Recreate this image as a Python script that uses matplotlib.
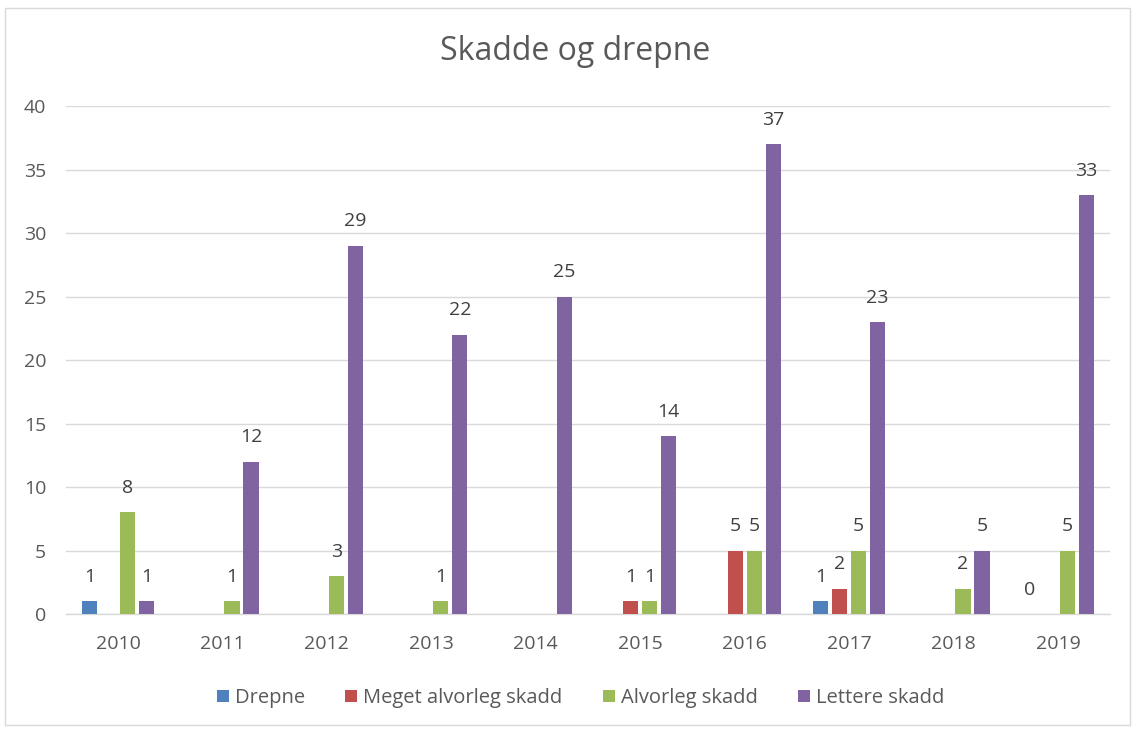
import numpy as np
import matplotlib
matplotlib.use('Agg')
import matplotlib.pyplot as plt
from matplotlib.patches import Rectangle

plt.rcParams['font.family'] = ['Open Sans', 'DejaVu Sans']

# data (nan = no bar / no label)
years = ['2010', '2011', '2012', '2013', '2014', '2015', '2016', '2017', '2018', '2019']
drepne = [1, np.nan, np.nan, np.nan, np.nan, np.nan, np.nan, 1, np.nan, 0]
meget_alvorleg = [np.nan, np.nan, np.nan, np.nan, np.nan, 1, 5, 2, np.nan, np.nan]
alvorleg = [8, 1, 3, 1, np.nan, 1, 5, 5, 2, 5]
lettere = [1, 12, 29, 22, 25, 14, 37, 23, 5, 33]

series_names = ['Drepne', 'Meget alvorleg skadd', 'Alvorleg skadd', 'Lettere skadd']
series_vals = [drepne, meget_alvorleg, alvorleg, lettere]
colors = ['#4F81BD', '#C0504D', '#9BBB59', '#8064A2']

grid_col = '#D9D9D9'
text_col = '#595959'
label_col = '#404040'

fig = plt.figure(figsize=(11.34, 7.31), dpi=100)
ax = fig.add_axes([0.058, 0.160, 0.921, 0.695])

x = np.arange(len(years))
step = 0.182
width = 0.145
offsets = (np.arange(4) - 1.5) * step

for i, (name, vals) in enumerate(zip(series_names, series_vals)):
    vals = np.array(vals, dtype=float)
    bars = ax.bar(x + offsets[i], np.nan_to_num(vals, nan=0.0), width,
                  color=colors[i], label=name, zorder=3)
    labels = ['' if np.isnan(v) else '%d' % v for v in vals]
    ax.bar_label(bars, labels=labels, padding=11, fontsize=14, color=label_col)

ax.set_xlim(-0.5, len(years) - 0.5)
ax.set_ylim(0, 40)
ax.set_yticks(range(0, 41, 5))
ax.set_xticks(x)
ax.set_xticklabels(years)
ax.tick_params(axis='both', length=0, labelsize=14, labelcolor=text_col)
ax.tick_params(axis='x', pad=15)
ax.tick_params(axis='y', pad=14)
ax.grid(axis='y', color=grid_col, linewidth=1, zorder=0)
ax.set_axisbelow(True)
for s in ['top', 'right', 'left']:
    ax.spines[s].set_visible(False)
ax.spines['bottom'].set_color(grid_col)
ax.spines['bottom'].set_linewidth(1)

fig.text(0.507, 1 - 52 / 731, 'Skadde og drepne', ha='center', va='center',
         fontsize=23, color=text_col)

fig.legend(loc='center', bbox_to_anchor=(0.512, 0.045), ncol=4, frameon=False,
           fontsize=14.5, labelcolor=text_col, handlelength=0.6, handleheight=0.6,
           handletextpad=0.3, columnspacing=2.0)

# outer chart border
fig.patches.append(Rectangle((5 / 1134, 6 / 731), 1125 / 1134, 717 / 731,
                             transform=fig.transFigure, fill=False,
                             edgecolor=grid_col, linewidth=1))

fig.savefig('out.png', dpi=100)
